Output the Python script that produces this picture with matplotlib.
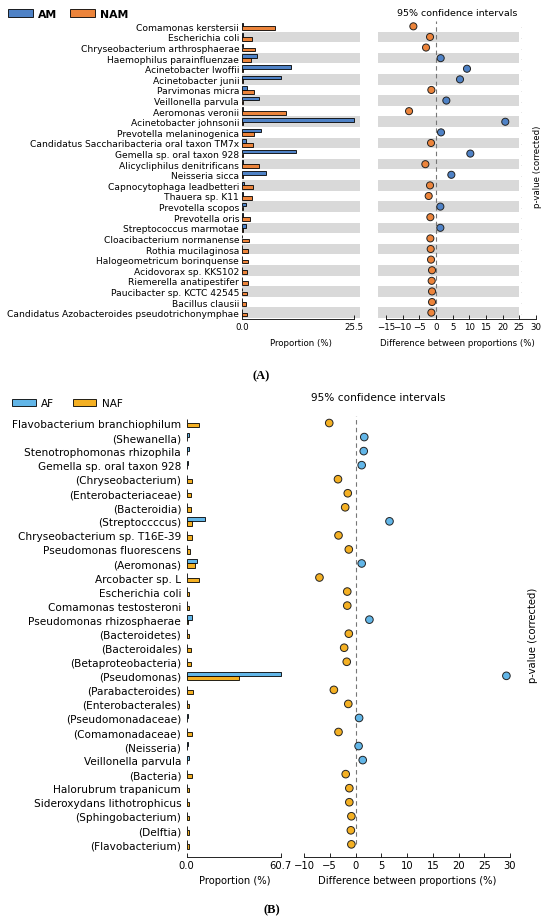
import numpy as np
import matplotlib
matplotlib.use("Agg")
import matplotlib.pyplot as plt
from matplotlib.patches import Patch

# ---- panel A data ----
taxa_a = ["Comamonas kerstersii", "Escherichia coli", "Chryseobacterium arthrosphaerae",
          "Haemophilus parainfluenzae", "Acinetobacter lwoffii", "Acinetobacter junii",
          "Parvimonas micra", "Veillonella parvula", "Aeromonas veronii",
          "Acinetobacter johnsonii", "Prevotella melaninogenica",
          "Candidatus Saccharibacteria oral taxon TM7x", "Gemella sp. oral taxon 928",
          "Alicycliphilus denitrificans", "Neisseria sicca", "Capnocytophaga leadbetteri",
          "Thauera sp. K11", "Prevotella scopos", "Prevotella oris", "Streptococcus marmotae",
          "Cloacibacterium normanense", "Rothia mucilaginosa", "Halogeometricum borinquense",
          "Acidovorax sp. KKS102", "Riemerella anatipestifer", "Paucibacter sp. KCTC 42545",
          "Bacillus clausii", "Candidatus Azobacteroides pseudotrichonymphae"]
am = [0.2, 0.2, 0.2, 3.5, 11.2, 8.8, 1.1, 3.8, 0.2, 25.5, 4.4, 0.9, 12.2, 0.2,
      5.4, 0.4, 0.2, 0.9, 0.2, 0.8, 0.1, 0.1, 0.1, 0.1, 0.1, 0.1, 0.1, 0.1]
nam = [7.6, 2.3, 3.0, 2.1, 0.2, 0.2, 2.7, 0.2, 10.0, 0.2, 2.8, 2.5, 0.2, 3.8,
       0.2, 2.5, 2.3, 0.2, 1.8, 0.2, 1.5, 1.3, 1.3, 1.1, 1.3, 1.2, 1.0, 1.1]
diff_a = [-6.8, -1.8, -3.0, 1.4, 9.3, 7.2, -1.4, 3.1, -8.1, 20.8, 1.5, -1.5, 10.3, -3.2,
          4.6, -1.8, -2.2, 1.3, -1.7, 1.3, -1.7, -1.6, -1.5, -1.2, -1.3, -1.2, -1.2, -1.4]

# ---- panel B data ----
taxa_b = ["Flavobacterium branchiophilum", "(Shewanella)", "Stenotrophomonas rhizophila",
          "Gemella sp. oral taxon 928", "(Chryseobacterium)", "(Enterobacteriaceae)",
          "(Bacteroidia)", "(Streptoccccus)", "Chryseobacterium sp. T16E-39",
          "Pseudomonas fluorescens", "(Aeromonas)", "Arcobacter sp. L", "Escherichia coli",
          "Comamonas testosteroni", "Pseudomonas rhizosphaerae", "(Bacteroidetes)",
          "(Bacteroidales)", "(Betaproteobacteria)", "(Pseudomonas)", "(Parabacteroides)",
          "(Enterobacterales)", "(Pseudomonadaceae)", "(Comamonadaceae)", "(Neisseria)",
          "Veillonella parvula", "(Bacteria)", "Halorubrum trapanicum",
          "Sideroxydans lithotrophicus", "(Sphingobacterium)", "(Delftia)", "(Flavobacterium)"]
af = [0.3, 1.5, 1.3, 1.0, 0.2, 0.2, 0.2, 11.5, 0.2, 0.2, 6.5, 0.3, 0.2, 0.2, 3.7, 0.2,
      0.2, 0.2, 60.7, 0.2, 0.2, 1.0, 0.2, 1.0, 1.7, 0.2, 0.2, 0.2, 0.2, 0.2, 0.2]
naf = [8.0, 0.3, 0.2, 0.1, 3.2, 2.6, 2.6, 3.7, 3.5, 2.0, 5.4, 8.2, 1.7, 1.7, 1.0, 1.5,
       2.6, 2.6, 34.0, 3.8, 1.3, 0.2, 3.2, 0.1, 0.5, 3.2, 1.2, 1.2, 1.2, 1.2, 1.2]
diff_b = [-5.1, 1.7, 1.6, 1.2, -3.4, -1.5, -2.0, 6.6, -3.3, -1.3, 1.2, -7.0, -1.6, -1.6,
          2.7, -1.3, -2.2, -1.7, 29.3, -4.2, -1.4, 0.7, -3.3, 0.6, 1.4, -1.9, -1.2, -1.2,
          -0.8, -0.9, -0.8]

c_am, c_nam = "#4f82c6", "#ec843b"
c_af, c_naf = "#62b6e8", "#f4b023"
band = "#d9d9d9"

W, H = 550, 920
fig = plt.figure(figsize=(W / 100, H / 100), dpi=100)


def px_axes(x0, x1, y0, y1):
    # pixel box (top-left origin) -> figure axes
    return fig.add_axes([x0 / W, 1 - y1 / H, (x1 - x0) / W, (y1 - y0) / H])


def clean(ax):
    for s in ["top", "right", "left"]:
        ax.spines[s].set_visible(False)
    ax.tick_params(axis="x", direction="in", length=3, width=0.6, pad=2)
    ax.tick_params(axis="y", length=0)
    ax.spines["bottom"].set_linewidth(0.6)


# ================= panel A =================
n_a = len(taxa_a)
ya = np.arange(n_a)
fs_a = 6.2

axa = px_axes(242, 360, 21.5, 320)
for i in ya:
    if i % 2 == 1:
        axa.axhspan(i - 0.5, i + 0.5, color=band, lw=0, zorder=0)
axa.barh(ya - 0.18, am, height=0.34, color=c_am, edgecolor="black", lw=0.6, zorder=2)
axa.barh(ya + 0.18, nam, height=0.34, color=c_nam, edgecolor="black", lw=0.6, zorder=2)
axa.set_ylim(n_a - 0.4, -0.55)
axa.set_xlim(0, 26.9)
axa.set_yticks(ya)
axa.set_yticklabels(taxa_a, fontsize=6.6)
axa.tick_params(axis="y", pad=2)
axa.set_xticks([0, max(am)])
axa.set_xticklabels(["0.0", "25.5"], fontsize=fs_a)
axa.spines["bottom"].set_bounds(0, max(am))
axa.set_xlabel("Proportion (%)", fontsize=fs_a, labelpad=5)
clean(axa)

axd = px_axes(378.4, 536.6, 21.5, 320)
lo, hi = -17.3, 30.2
for i in ya:
    if i % 2 == 1:
        axd.axhspan(i - 0.5, i + 0.5, xmin=0, xmax=(25 - lo) / (hi - lo),
                    color=band, lw=0, zorder=0)
axd.axvline(0, color="#777777", ls=(0, (4, 3)), lw=0.8, zorder=1)
cols = [c_am if d > 0 else c_nam for d in diff_a]
axd.scatter(diff_a, ya, s=26, c=cols, edgecolors="#222222", linewidths=0.7, zorder=3)
for i in ya:
    axd.text(0.905, i, ".", transform=axd.get_yaxis_transform(), fontsize=3,
             color="#888888", ha="center", va="center")
axd.set_ylim(n_a - 0.4, -0.55)
axd.set_xlim(lo, hi)
axd.set_yticks([])
axd.set_xticks(np.arange(-15, 31, 5))
axd.set_xticklabels([f"{t}".replace("-", "\u2212") for t in range(-15, 31, 5)], fontsize=fs_a)
axd.spines["bottom"].set_bounds(-15, 30)
axd.set_xlabel("Difference between proportions (%)", fontsize=fs_a, labelpad=5)
axd.set_title("95% confidence intervals", fontsize=6.8, pad=4)
clean(axd)
fig.text(537 / W, 1 - 167 / H, "p-value (corrected)", rotation=90, fontsize=fs_a,
         ha="center", va="center")

fig.legend(handles=[Patch(facecolor=c_am, edgecolor="black", lw=0.6, label="AM"),
                    Patch(facecolor=c_nam, edgecolor="black", lw=0.6, label="NAM")],
           loc="upper left", bbox_to_anchor=(0.0, 1 - 2 / H), ncol=2, frameon=False,
           prop={"size": 7.8, "weight": "bold"}, handlelength=2.3, handleheight=0.7,
           columnspacing=1.2, handletextpad=0.5, borderaxespad=0.3)
fig.text(261 / W, 1 - 376 / H, "(A)", fontsize=9, fontweight="bold",
         family="Liberation Serif", ha="center", va="center")

# ================= panel B =================
n_b = len(taxa_b)
yb = np.arange(n_b)
fs_b = 7.2

axb = px_axes(186.7, 282.7, 417, 858)
axb.barh(yb - 0.15, af, height=0.3, color=c_af, edgecolor="black", lw=0.6, zorder=2)
axb.barh(yb + 0.15, naf, height=0.3, color=c_naf, edgecolor="black", lw=0.6, zorder=2)
axb.set_ylim(n_b - 0.1, -0.5)
axb.set_xlim(0, 62.0)
axb.set_yticks(yb)
axb.set_yticklabels(taxa_b, fontsize=7.6)
axb.tick_params(axis="y", pad=4)
axb.set_xticks([0, max(af)])
axb.set_xticklabels(["0.0", "60.7"], fontsize=fs_b)
axb.spines["bottom"].set_bounds(0, max(af))
axb.set_xlabel("Proportion (%)", fontsize=fs_b, labelpad=4)
clean(axb)

axe = px_axes(304, 510, 417, 858)
axe.axvline(0, ymin=0.03, color="#777777", ls=(0, (4, 3)), lw=0.8, zorder=1)
cols = [c_af if d > 0 else c_naf for d in diff_b]
axe.scatter(diff_b, yb, s=30, c=cols, edgecolors="#222222", linewidths=0.7, zorder=3,
            clip_on=False)
axe.set_ylim(n_b - 0.1, -0.5)
axe.set_xlim(-10, 30)
axe.set_yticks([])
axe.set_xticks(np.arange(-10, 31, 5))
axe.set_xticklabels([f"{t}".replace("-", "\u2212") for t in range(-10, 31, 5)], fontsize=fs_b)
axe.set_xlabel("Difference between proportions (%)", fontsize=fs_b, labelpad=4)
clean(axe)
fig.text(378 / W, 1 - 398 / H, "95% confidence intervals", fontsize=7.6,
         ha="center", va="center")
fig.text(533 / W, 1 - 635 / H, "p-value (corrected)", rotation=90, fontsize=fs_b,
         ha="center", va="center")

fig.legend(handles=[Patch(facecolor=c_af, edgecolor="black", lw=0.6, label="AF"),
                    Patch(facecolor=c_naf, edgecolor="black", lw=0.6, label="NAF")],
           loc="upper left", bbox_to_anchor=(5 / W, 1 - 392 / H), ncol=2, frameon=False,
           fontsize=7.6, handlelength=2.2, handleheight=0.7, columnspacing=1.8,
           handletextpad=0.5, borderaxespad=0.3)
fig.text(272 / W, 1 - 910 / H, "(B)", fontsize=9, fontweight="bold",
         family="Liberation Serif", ha="center", va="center")

fig.savefig("out.png", dpi=100, facecolor="white")
